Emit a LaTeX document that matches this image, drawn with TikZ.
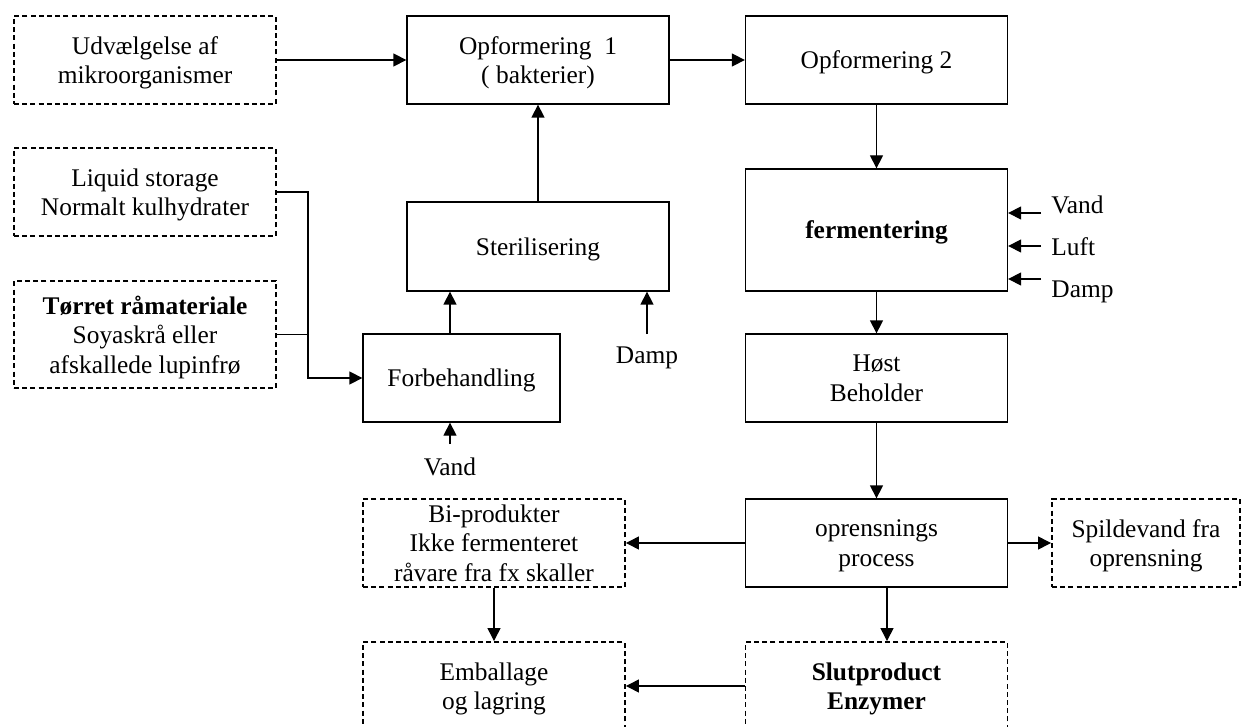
\documentclass[tikz,border=0pt]{standalone}
\usepackage{fontspec}
\setmainfont{Liberation Serif}
\usetikzlibrary{arrows.meta, positioning, calc}
\tikzset{
    arr/.style={-{Triangle[length=6.5pt, width=6.5pt]}, line width=0.65pt},
    procbox/.style={draw, line width=0.65pt, minimum width=131pt, minimum height=44pt, inner sep=0pt,
        align=center, text depth=0pt},
    extbox/.style={procbox, line width=0.95pt, dash pattern=on 2.5pt off 1.6pt},
    lbl/.style={inner sep=0pt, align=center}
}

\begin{document}
\begin{tikzpicture}[x=0.5pt, y=-0.5pt, every node/.style={font=\fontsize{12.7}{14.75}\selectfont}]
    \useasboundingbox (0,0) rectangle (1242,727);
    \clip (0,0) rectangle (1242,727);
    % raw materials and cultures
    \node[extbox] (udv) at (145,60) {Udvælgelse af\\mikroorganismer};
    \node[extbox] (liquid) at (145,192) {Liquid storage\\Normalt kulhydrater};
    \node[extbox, minimum height=53.5pt] (torret) at (145,334.5) {\textbf{Tørret råmateriale}\\Soyaskrå eller\\afskallede lupinfrø};
    % process steps
    \node[procbox] (opf1) at (538,60) {Opformering\ \ 1\\( bakterier)};
    \node[procbox] (opf2) at (876.5,60) {Opformering 2};
    \node[procbox, minimum height=44.5pt] (steril) at (538,246.5) {Sterilisering};
    \node[procbox, minimum width=98.5pt] (forb) at (461.5,378) {Forbehandling};
    \node[procbox, minimum height=61pt] (ferm) at (876.5,230) {\textbf{fermentering}};
    \node[procbox] (host) at (876.5,378) {Høst\\Beholder};
    \node[procbox] (opr) at (876.5,543) {oprensnings\\process};
    % outputs
    \node[extbox] (bi) at (494,543) {Bi-produkter\\Ikke fermenteret\\råvare fra fx skaller};
    \node[extbox, minimum width=94pt] (spild) at (1146,543) {Spildevand fra\\oprensning};
    \node[extbox] (emb) at (494,686) {Emballage\\og lagring};
    \node[extbox] (slut) at (876.5,686) {\textbf{Slutproduct}\\\textbf{Enzymer}};
    % utilities
    \node[lbl] (vand) at (450,467) {Vand};
    \node[lbl] (damp) at (647,358) {Damp};
    \coordinate (vandin) at (450,444);
    \coordinate (dampin) at (647,334);
    \coordinate (joint) at (308,378);

    \draw[arr] (udv) -- (opf1);
    \draw[arr] (opf1) -- (opf2);
    \draw[arr] (steril) -- (opf1);
    \draw[arr] (opf2) -- (ferm);
    \draw[arr] (ferm) -- (host);
    \draw[arr] (host) -- (opr);
    \draw[arr] (opr) -- (bi);
    \draw[arr] (opr) -- (spild);
    \draw[arr] (bi) -- (emb);
    \draw[arr] (slut) -- (emb);
    \draw[arr] ([xshift=5.25pt]opr.south) -- ([xshift=5.25pt]slut.north);
    \draw[arr] (liquid.east) -| (joint) -- (forb.west);
    \draw[line width=0.65pt] (torret.east) -- (torret.east -| joint);
    \draw[arr] (forb.north -| vandin) -- (steril.south -| vandin);
    \draw[arr] (vandin) -- (vandin |- forb.south);
    \draw[arr] (dampin) -- (dampin |- steril.south);
    \foreach \yy/\name/\ty in {213/Vand/205, 246/Luft/247, 279/Damp/292}{
        \coordinate (in\name) at (1041,\yy);
        \draw[arr] (in\name) -- (in\name -| ferm.east);
        \node[lbl, anchor=west] (lbl\name) at (1051,\ty) {\name};
    }
\end{tikzpicture}
\end{document}
